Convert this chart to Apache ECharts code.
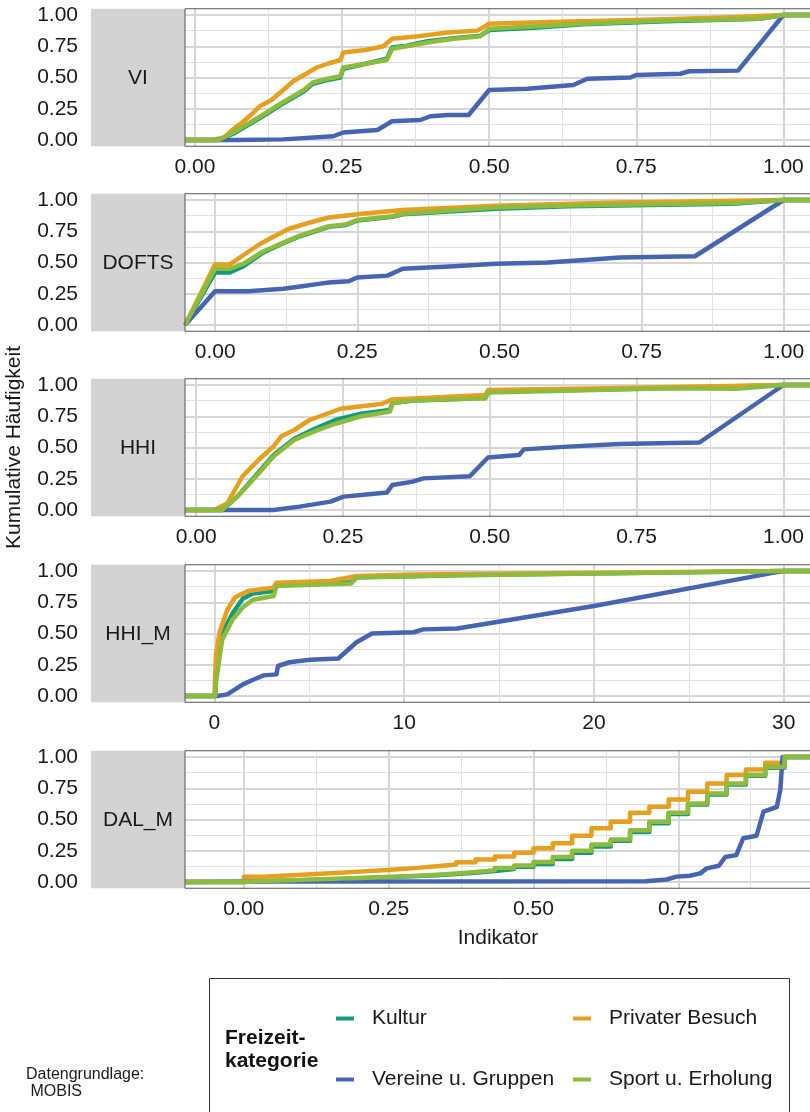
<!DOCTYPE html>
<html>
<head>
<meta charset="utf-8">
<script src="https://cdn.jsdelivr.net/npm/echarts@6/dist/echarts.min.js"></script>
<style>
html,body{margin:0;padding:0;background:#fff;}
#chart{width:810px;height:1112px;}
</style>
</head>
<body>
<div id="chart"></div>
<script>
// ---------- data ----------
const PANELS = ['VI', 'DOFTS', 'HHI', 'HHI_M', 'DAL_M'];
const CATEGORIES = ['Kultur', 'Privater Besuch', 'Vereine u. Gruppen', 'Sport u. Erholung'];
const COLORS = ['#119a7b', '#e69f1f', '#4565b2', '#8cbb3e'];

const X_MIN = [-0.017, -0.053, -0.019, -1.55, -0.1015];
const X_MAX = [1.047, 1.048, 1.047, 31.44, 0.979];
const X_TICKS = [
  [0, 0.25, 0.5, 0.75, 1],
  [0, 0.25, 0.5, 0.75, 1],
  [0, 0.25, 0.5, 0.75, 1],
  [0, 10, 20, 30],
  [0, 0.25, 0.5, 0.75]
];
const X_MINOR = [
  [0.125, 0.375, 0.625, 0.875],
  [0.125, 0.375, 0.625, 0.875],
  [0.125, 0.375, 0.625, 0.875],
  [5, 15, 25],
  [0.125, 0.375, 0.625, 0.875]
];
const Y_TICKS = [0, 0.25, 0.5, 0.75, 1];
const Y_MINOR = [0.125, 0.375, 0.625, 0.875];

// VI
const VI_kultur = [[-0.017,0],[0.04,0],[0.065,0.05],[0.09,0.12],[0.122,0.21],[0.145,0.28],[0.167,0.34],[0.185,0.39],[0.2,0.45],[0.225,0.48],[0.247,0.50],[0.252,0.57],[0.29,0.61],[0.326,0.65],[0.335,0.74],[0.36,0.755],[0.395,0.79],[0.44,0.815],[0.485,0.835],[0.5,0.88],[0.583,0.9],[0.66,0.925],[0.8,0.95],[0.96,0.97],[1.0,1.0],[1.047,1.0]];
const VI_privat = [[-0.017,0],[0.03,0],[0.05,0.02],[0.065,0.087],[0.08,0.14],[0.095,0.2],[0.11,0.27],[0.13,0.32],[0.145,0.38],[0.167,0.47],[0.185,0.52],[0.207,0.58],[0.225,0.61],[0.247,0.64],[0.252,0.70],[0.29,0.72],[0.32,0.75],[0.335,0.81],[0.38,0.83],[0.43,0.86],[0.48,0.875],[0.50,0.93],[0.6,0.945],[0.75,0.96],[0.9,0.98],[1.0,1.0],[1.047,1.0]];
const VI_vereine = [[-0.017,0],[0.07,0],[0.15,0.005],[0.235,0.03],[0.252,0.06],[0.31,0.08],[0.335,0.15],[0.383,0.16],[0.40,0.19],[0.43,0.2],[0.465,0.2],[0.50,0.40],[0.565,0.41],[0.643,0.44],[0.667,0.49],[0.74,0.50],[0.75,0.52],[0.825,0.53],[0.84,0.55],[0.923,0.555],[1.0,1.0],[1.047,1.0]];
const VI_sport = [[-0.017,0],[0.04,0],[0.065,0.06],[0.09,0.13],[0.122,0.22],[0.145,0.29],[0.167,0.35],[0.185,0.4],[0.2,0.46],[0.225,0.49],[0.247,0.51],[0.252,0.58],[0.29,0.61],[0.326,0.64],[0.335,0.73],[0.36,0.75],[0.395,0.78],[0.44,0.81],[0.485,0.83],[0.5,0.89],[0.583,0.91],[0.66,0.93],[0.8,0.955],[0.96,0.97],[1.0,1.0],[1.047,1.0]];

// DOFTS
const DOFTS_kultur = [[-0.053,0],[0,0.42],[0.026,0.42],[0.05,0.47],[0.085,0.58],[0.113,0.64],[0.149,0.71],[0.2,0.785],[0.23,0.80],[0.25,0.835],[0.312,0.865],[0.33,0.885],[0.494,0.93],[0.62,0.95],[0.91,0.97],[1.0,1.0],[1.048,1.0]];
const DOFTS_privat = [[-0.053,0],[0,0.485],[0.026,0.485],[0.05,0.56],[0.076,0.64],[0.1,0.7],[0.13,0.77],[0.167,0.82],[0.2,0.86],[0.258,0.89],[0.33,0.92],[0.494,0.955],[0.712,0.98],[1.0,1.0],[1.048,1.0]];
const DOFTS_vereine = [[-0.053,0],[0,0.27],[0.058,0.27],[0.12,0.29],[0.153,0.31],[0.176,0.325],[0.2,0.34],[0.235,0.35],[0.25,0.38],[0.303,0.395],[0.33,0.45],[0.42,0.47],[0.494,0.49],[0.585,0.5],[0.65,0.52],[0.712,0.54],[0.844,0.55],[1.0,1.0],[1.048,1.0]];
const DOFTS_sport = [[-0.053,0],[0,0.45],[0.026,0.45],[0.05,0.49],[0.085,0.59],[0.113,0.645],[0.149,0.715],[0.2,0.79],[0.23,0.805],[0.25,0.84],[0.312,0.87],[0.33,0.89],[0.494,0.94],[0.62,0.955],[0.91,0.975],[1.0,1.0],[1.048,1.0]];

// HHI
const HHI_kultur = [[-0.019,0],[0.044,0],[0.07,0.107],[0.106,0.30],[0.132,0.44],[0.167,0.57],[0.202,0.65],[0.237,0.72],[0.281,0.77],[0.33,0.80],[0.334,0.855],[0.369,0.875],[0.4925,0.895],[0.497,0.945],[0.809,0.975],[1.0,1.0],[1.047,1.0]];
const HHI_privat = [[-0.019,0],[0.031,0],[0.053,0.053],[0.079,0.27],[0.106,0.4],[0.132,0.51],[0.145,0.59],[0.167,0.64],[0.193,0.72],[0.211,0.75],[0.246,0.81],[0.317,0.85],[0.334,0.885],[0.4925,0.92],[0.497,0.96],[0.7,0.975],[1.0,1.0],[1.047,1.0]];
const HHI_vereine = [[-0.019,0],[0.132,0],[0.176,0.027],[0.229,0.067],[0.251,0.107],[0.281,0.12],[0.325,0.14],[0.334,0.2],[0.369,0.227],[0.387,0.253],[0.466,0.27],[0.497,0.42],[0.55,0.44],[0.558,0.485],[0.633,0.507],[0.721,0.528],[0.857,0.54],[1.0,1.0],[1.047,1.0]];
const HHI_sport = [[-0.019,0],[0.044,0],[0.07,0.107],[0.106,0.29],[0.132,0.43],[0.167,0.56],[0.202,0.63],[0.237,0.69],[0.281,0.75],[0.33,0.787],[0.334,0.853],[0.369,0.875],[0.4925,0.893],[0.497,0.94],[0.809,0.973],[0.92,0.97],[1.0,1.0],[1.047,1.0]];

// HHI_M
const HHIM_kultur = [[-1.55,0],[0.05,0],[0.08,0.15],[0.41,0.5],[0.95,0.66],[1.5,0.78],[2.04,0.82],[3.13,0.84],[3.27,0.89],[7.2,0.91],[7.5,0.95],[13.2,0.967],[30,1],[31.44,1]];
const HHIM_privat = [[-1.55,0],[0.0,0],[0.08,0.32],[0.27,0.51],[0.68,0.69],[1.09,0.79],[1.77,0.84],[3.1,0.867],[3.27,0.907],[6.1,0.92],[7.5,0.96],[10.5,0.973],[30,1.0],[31.44,1.0]];
const HHIM_vereine = [[-1.55,0],[0.14,0],[0.68,0.013],[1.5,0.093],[2.04,0.13],[2.6,0.165],[3.27,0.173],[3.35,0.24],[3.95,0.27],[5.04,0.29],[6.53,0.3],[7.49,0.43],[8.3,0.5],[10.5,0.51],[11.0,0.533],[12.8,0.54],[20.0,0.72],[29.5,0.987],[30,1.0],[31.44,1.0]];
const HHIM_sport = [[-1.55,0],[0.05,0],[0.08,0.107],[0.41,0.45],[0.95,0.61],[1.5,0.71],[2.04,0.77],[3.13,0.8],[3.27,0.88],[7.2,0.9],[7.5,0.947],[13.2,0.965],[30,1.0],[31.44,1.0]];

// DAL_M (step data: value reached at each x)
const DALM_x = [-0.1015, 0, 0.0333, 0.0667, 0.1, 0.1333, 0.1667, 0.2, 0.2333, 0.2667, 0.3, 0.3333, 0.3667, 0.4, 0.4333, 0.4667, 0.5, 0.5333, 0.5667, 0.6, 0.6333, 0.6667, 0.7, 0.7333, 0.7667, 0.8, 0.8333, 0.8667, 0.9, 0.9333, 0.979];
const DALM_kultur_y = [0, 0.007, 0.011, 0.015, 0.02, 0.025, 0.03, 0.035, 0.041, 0.047, 0.054, 0.063, 0.074, 0.088, 0.104, 0.122, 0.145, 0.185, 0.235, 0.285, 0.33, 0.40, 0.47, 0.545, 0.62, 0.70, 0.78, 0.85, 0.915, 1.0, 1.0];
const DALM_privat_y = [0, 0.042, 0.05, 0.058, 0.066, 0.074, 0.083, 0.092, 0.102, 0.113, 0.126, 0.14, 0.158, 0.18, 0.205, 0.235, 0.27, 0.31, 0.37, 0.43, 0.483, 0.555, 0.603, 0.661, 0.723, 0.789, 0.856, 0.901, 0.955, 1.0, 1.0];
const DALM_sport_y = [0, 0.008, 0.012, 0.017, 0.022, 0.027, 0.032, 0.038, 0.044, 0.05, 0.058, 0.068, 0.08, 0.095, 0.112, 0.132, 0.16, 0.2, 0.25, 0.30, 0.341, 0.415, 0.483, 0.555, 0.629, 0.709, 0.789, 0.856, 0.92, 1.0, 1.0];
const DALM_vereine = [[-0.1015,0],[0.0,0.003],[0.694,0.006],[0.73,0.02],[0.747,0.043],[0.77,0.05],[0.788,0.069],[0.799,0.109],[0.82,0.13],[0.831,0.2],[0.85,0.215],[0.862,0.35],[0.885,0.37],[0.897,0.563],[0.92,0.6],[0.926,0.736],[0.930,1.0],[0.979,1.0]];

const zipXY = (xs, ys) => xs.map((x, j) => [x, ys[j]]);
const SERIES_DATA = [
  [VI_kultur, VI_privat, VI_vereine, VI_sport],
  [DOFTS_kultur, DOFTS_privat, DOFTS_vereine, DOFTS_sport],
  [HHI_kultur, HHI_privat, HHI_vereine, HHI_sport],
  [HHIM_kultur, HHIM_privat, HHIM_vereine, HHIM_sport],
  [zipXY(DALM_x, DALM_kultur_y), zipXY(DALM_x, DALM_privat_y), DALM_vereine, zipXY(DALM_x, DALM_sport_y)]
];
const SERIES_STEP = [
  [false, false, false, false],
  [false, false, false, false],
  [false, false, false, false],
  [false, false, false, false],
  ['end', 'end', false, 'end']
];

// ---------- layout / style ----------
const FONT = "'Liberation Sans', Arial, Helvetica, sans-serif";
const TXT = '#1a1a1a';
const GRID_TOPS = [8.75, 193.75, 378.75, 564.75, 750.75];
const GRID_H = 137.5;
const GRID_LEFT = 185;
const STRIP_LEFT = 91;

const grids = [], xAxes = [], yAxes = [], series = [], graphics = [];

PANELS.forEach((p, i) => {
  grids.push({
    left: GRID_LEFT, right: -1, top: GRID_TOPS[i], height: GRID_H,
    containLabel: false, outerBoundsMode: 'none',
    show: true, borderColor: '#555', borderWidth: 1, backgroundColor: 'transparent', z: 3
  });
  const isInt = i === 3;
  const xMajor = {
    type: 'value', gridIndex: i, min: X_MIN[i], max: X_MAX[i],
    axisLine: { show: false }, axisTick: { show: false, customValues: X_TICKS[i] },
    axisLabel: {
      customValues: X_TICKS[i], margin: 10, fontSize: 21, fontFamily: FONT, color: TXT,
      formatter: v => isInt ? String(Math.round(v)) : v.toFixed(2)
    },
    splitLine: { show: true, lineStyle: { color: '#d6d6d6', width: 2 } }
  };
  if (i === 4) {
    Object.assign(xMajor, {
      name: 'Indikator', nameLocation: 'middle', nameGap: 39,
      nameTextStyle: { fontSize: 21, fontFamily: FONT, color: TXT }
    });
  }
  xAxes.push(xMajor);
  xAxes.push({
    type: 'value', gridIndex: i, min: X_MIN[i], max: X_MAX[i],
    axisLine: { show: false }, axisTick: { show: false, customValues: X_MINOR[i] },
    axisLabel: { show: false, customValues: X_MINOR[i] },
    splitLine: { show: true, lineStyle: { color: '#e2e2e2', width: 1 } }
  });
  const yMajor = {
    type: 'value', gridIndex: i, min: -0.05, max: 1.05,
    axisLine: { show: false }, axisTick: { show: false, customValues: Y_TICKS },
    axisLabel: {
      customValues: Y_TICKS, margin: 107, fontSize: 21, fontFamily: FONT, color: TXT,
      formatter: v => v.toFixed(2)
    },
    splitLine: { show: true, lineStyle: { color: '#d6d6d6', width: 2 } }
  };
  if (i === 2) {
    Object.assign(yMajor, {
      name: 'Kumulative Häufigkeit', nameLocation: 'middle', nameGap: 160, nameRotate: 90,
      nameTextStyle: { fontSize: 21, fontFamily: FONT, color: TXT }
    });
  }
  yAxes.push(yMajor);
  yAxes.push({
    type: 'value', gridIndex: i, min: -0.05, max: 1.05,
    axisLine: { show: false }, axisTick: { show: false, customValues: Y_MINOR },
    axisLabel: { show: false, customValues: Y_MINOR },
    splitLine: { show: true, lineStyle: { color: '#e2e2e2', width: 1 } }
  });

  CATEGORIES.forEach((c, k) => {
    series.push({
      type: 'line', name: c, xAxisIndex: 2 * i, yAxisIndex: 2 * i,
      data: SERIES_DATA[i][k], step: SERIES_STEP[i][k],
      showSymbol: false, symbol: 'none', clip: true,
      lineStyle: { color: COLORS[k], width: 4.5, cap: 'butt', join: 'round' },
      itemStyle: { color: COLORS[k] }, z: 2 + k * 0.1
    });
  });

  graphics.push({
    type: 'rect', shape: { x: STRIP_LEFT, y: GRID_TOPS[i], width: GRID_LEFT - STRIP_LEFT, height: GRID_H },
    style: { fill: '#d3d3d3' }, z: 1
  });
  graphics.push({
    type: 'text', x: (STRIP_LEFT + GRID_LEFT) / 2, y: GRID_TOPS[i] + GRID_H / 2 + 1,
    style: { text: p, fontSize: 21, fontFamily: FONT, fill: TXT, align: 'center', verticalAlign: 'middle' }, z: 2
  });
});

graphics.push({
  type: 'rect', shape: { x: 209.5, y: 978.5, width: 580, height: 160 },
  style: { fill: 'none', stroke: '#333', lineWidth: 1 }, z: 1
});
graphics.push({
  type: 'text', x: 225, y: 1050,
  style: { text: 'Freizeit-\nkategorie', fontSize: 21, fontWeight: 'bold', fontFamily: FONT, fill: '#111',
    lineHeight: 23, align: 'left', verticalAlign: 'middle' }, z: 2
});
graphics.push({
  type: 'text', x: 26, y: 1083,
  style: { text: 'Datengrundlage:\n MOBIS', fontSize: 16, fontFamily: FONT, fill: TXT,
    lineHeight: 17, align: 'left', verticalAlign: 'middle' }, z: 2
});

const legendBase = {
  icon: 'rect', itemWidth: 18, itemHeight: 4, padding: 0, orient: 'horizontal',
  textStyle: { fontSize: 21, fontFamily: FONT, color: TXT, padding: [0, 0, 0, 13] },
  selectedMode: false
};
const LEGEND_POS = [[336, 1008], [573, 1008], [336, 1069], [573, 1069]];
const legends = CATEGORIES.map((c, k) => Object.assign({}, legendBase, {
  data: [c], left: LEGEND_POS[k][0], top: LEGEND_POS[k][1]
}));

const chart = echarts.init(document.getElementById('chart'), null, { renderer: 'canvas' });
chart.setOption({
  animation: false,
  backgroundColor: '#fff',
  textStyle: { fontFamily: FONT },
  grid: grids, xAxis: xAxes, yAxis: yAxes, series: series,
  legend: legends,
  graphic: graphics
});
</script>
</body>
</html>
